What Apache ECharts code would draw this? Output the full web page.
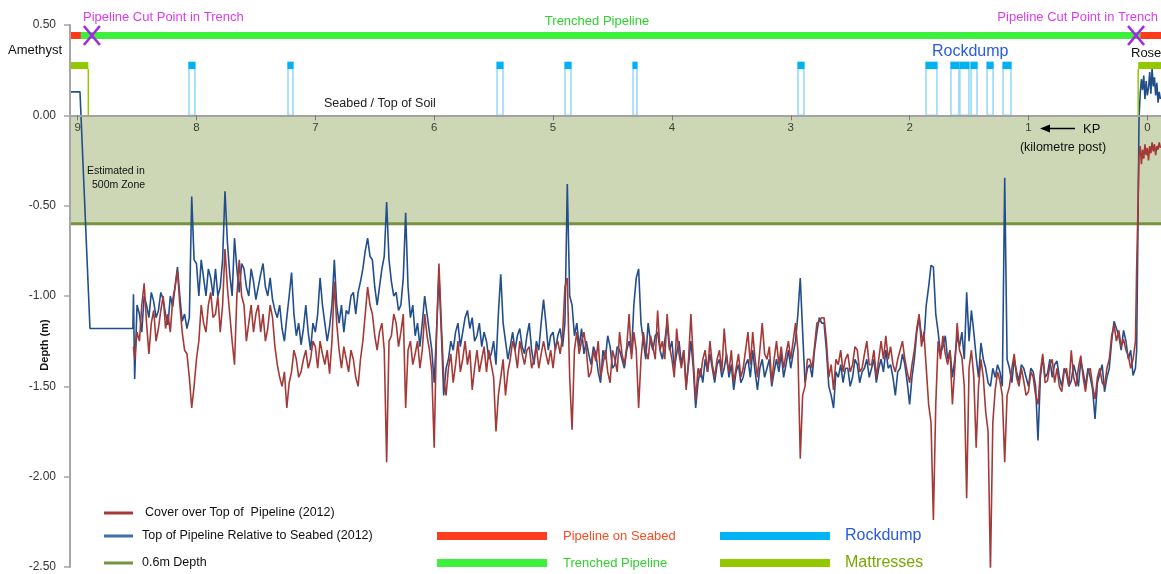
<!DOCTYPE html>
<html><head><meta charset="utf-8">
<script src="https://cdn.jsdelivr.net/npm/echarts@6/dist/echarts.min.js"></script>
<style>html,body{margin:0;padding:0;background:#fff}#c{width:1161px;height:574px}</style>
</head><body><div id="c"></div>
<script>
// ---------- data ----------
const KP_MIN = -0.115, KP_MAX = 9.064;
const kpTicks = [0, 1, 2, 3, 4, 5, 6, 7, 8, 9];
const depthLimit = -0.6;

// Estimated section (500m zone) of the top-of-pipeline line
const estKp  = [9.064, 8.98, 8.896, 8.535];
const estTop = [0.13, 0.13, -1.18, -1.18];

// Surveyed profile: KP (km)
const kp = [8.53,
 8.52,8.50,8.48,8.46,8.44,8.42,8.40,8.38,8.36,8.34,8.32,8.30,8.28,8.26,8.24,8.22,8.20,8.18,8.16,8.14,8.12,8.10,8.08,8.06,8.04,8.02,
 8.00,7.98,7.96,7.94,7.92,7.90,7.88,7.86,7.84,7.82,7.80,7.78,7.76,7.74,7.72,7.70,7.68,7.66,7.64,7.62,
 7.60,7.58,7.56,7.54,7.52,7.50,7.48,7.46,7.44,7.42,7.40,7.38,7.36,7.34,7.32,7.30,7.28,7.26,7.24,7.22,
 7.20,7.18,7.16,7.14,7.12,7.10,7.08,7.06,7.04,7.02,
 7.00,6.98,6.96,6.94,6.92,6.90,6.88,6.86,6.84,6.82,6.80,6.78,6.76,6.74,6.72,6.70,6.68,6.66,6.64,6.62,
 6.60,6.58,6.56,6.54,6.52,6.50,6.48,6.46,6.44,6.42,6.40,6.38,6.36,6.34,6.32,6.30,6.28,6.26,6.24,6.22,
 6.20,6.18,6.16,6.14,6.12,6.10,6.08,6.06,6.04,6.02,
 6.00,5.98,5.96,5.94,5.92,5.90,5.88,5.86,5.84,5.82,5.80,5.78,5.76,5.74,5.72,5.70,5.68,5.66,5.64,5.62,
 5.60,5.58,5.56,5.54,5.52,5.50,5.48,5.46,5.44,5.42,5.40,5.38,5.36,5.34,5.32,5.30,5.28,5.26,5.24,5.22,
 5.20,5.18,5.16,5.14,5.12,5.10,5.08,5.06,5.04,5.02,
 5.00,4.98,4.96,4.94,4.92,4.90,4.88,4.86,4.84,4.82,4.80,4.78,4.76,4.74,4.72,4.70,4.68,4.66,4.64,4.62,
 4.60,4.58,4.56,4.54,4.52,4.50,4.48,4.46,4.44,4.42,4.40,4.38,4.36,4.34,4.32,4.30,4.28,4.26,4.24,4.22,
 4.20,4.18,4.16,4.14,4.12,4.10,4.08,4.06,4.04,4.02,
 4.00,3.98,3.96,3.94,3.92,3.90,3.88,3.86,3.84,3.82,3.80,3.78,3.76,3.74,3.72,3.70,3.68,3.66,3.64,3.62,
 3.60,3.58,3.56,3.54,3.52,3.50,3.48,3.46,3.44,3.42,3.40,3.38,3.36,3.34,3.32,3.30,3.28,3.26,3.24,3.22,
 3.20,3.18,3.16,3.14,3.12,3.10,3.08,3.06,3.04,3.02,
 3.00,2.98,2.96,2.94,2.92,2.90,2.88,2.86,2.84,2.82,2.80,2.78,2.76,2.74,2.72,2.70,2.68,2.66,2.64,2.62,
 2.60,2.58,2.56,2.54,2.52,2.50,2.48,2.46,2.44,2.42,2.40,2.38,2.36,2.34,2.32,2.30,2.28,2.26,2.24,2.22,
 2.20,2.18,2.16,2.14,2.12,2.10,2.08,2.06,2.04,2.02,
 2.00,1.98,1.96,1.94,1.92,1.90,1.88,1.86,1.84,1.82,1.80,1.78,1.76,1.74,1.72,1.70,1.68,1.66,1.64,1.62,
 1.60,1.58,1.56,1.54,1.52,1.50,1.48,1.46,1.44,1.42,1.40,1.38,1.36,1.34,1.32,1.30,1.28,1.26,1.24,1.22,
 1.20,1.18,1.16,1.14,1.12,1.10,1.08,1.06,1.04,1.02,
 1.00,0.98,0.96,0.94,0.92,0.90,0.88,0.86,0.84,0.82,0.80,0.78,0.76,0.74,0.72,0.70,0.68,0.66,0.64,0.62,
 0.60,0.58,0.56,0.54,0.52,0.50,0.48,0.46,0.44,0.42,0.40,0.38,0.36,0.34,0.32,0.30,0.28,0.26,0.24,0.22,
 0.20,0.18,0.16,0.14,0.12,
 0.10,0.09,0.08,0.07,0.06,0.05,0.04,0.03,0.02,0.01,0.00,-0.01,-0.02,-0.03,-0.04,-0.05,-0.06,-0.07,-0.08,-0.09,-0.10,-0.11];

// Top of Pipeline Relative to Seabed (2012), m
const topOfPipe = [-0.99,
 -1.46,-1.05,-1.10,-1.20,-1.00,-1.05,-1.12,-0.98,-1.03,-1.12,-1.08,-0.98,-1.02,-1.10,-1.16,-1.00,-1.06,-0.95,-0.84,-1.00,-1.14,-1.10,-1.18,-1.12,-0.45,-0.80,
 -0.82,-1.00,-0.80,-0.90,-1.00,-0.85,-0.90,-1.00,-0.85,-1.00,-0.95,-0.80,-0.42,-0.70,-0.88,-1.00,-0.68,-0.85,-0.98,-0.82,
 -0.85,-0.95,-1.00,-0.85,-0.92,-1.02,-0.95,-0.88,-0.82,-0.95,-1.00,-0.90,-1.02,-1.08,-1.12,-1.05,-1.18,-1.25,-1.12,-1.00,
 -0.87,-1.10,-1.22,-1.15,-1.27,-1.18,-1.05,-1.20,-1.30,-1.15,
 -1.20,-1.10,-0.90,-1.05,-1.15,-1.25,-1.17,-1.05,-0.80,-1.05,-1.15,-1.05,-1.20,-1.08,-1.10,-1.00,-0.98,-1.10,-0.98,-0.92,
 -0.85,-0.75,-0.68,-0.78,-0.80,-0.95,-1.05,-0.95,-0.85,-0.78,-0.48,-0.80,-0.92,-1.00,-0.98,-1.08,-1.05,-0.90,-0.54,-0.95,
 -1.12,-1.05,-1.22,-1.15,-1.28,-1.15,-1.00,-1.10,-1.20,-1.30,
 -1.48,-1.20,-0.88,-1.20,-1.55,-1.40,-1.35,-1.25,-1.30,-1.20,-1.15,-1.28,-1.20,-1.12,-1.08,-1.18,-1.12,-1.25,-1.22,-1.15,
 -1.28,-1.20,-1.25,-1.35,-1.32,-1.25,-1.38,-1.10,-0.88,-1.15,-1.25,-1.35,-1.28,-1.20,-1.30,-1.22,-1.18,-1.28,-1.32,-1.22,
 -1.15,-1.30,-1.38,-1.25,-1.30,-1.15,-1.02,-1.15,-1.30,-1.22,
 -1.20,-1.30,-1.22,-1.18,-1.28,-1.15,-0.38,-1.00,-1.05,-1.22,-1.15,-1.28,-1.18,-1.32,-1.25,-1.32,-1.38,-1.28,-1.32,-1.42,
 -1.48,-1.30,-1.35,-1.22,-1.28,-1.40,-1.38,-1.28,-1.30,-1.35,-1.40,-1.30,-1.25,-1.32,-1.05,-0.90,-0.85,-1.15,-1.25,-1.35,
 -1.15,-1.25,-1.30,-1.22,-1.20,-1.30,-1.35,-1.25,-1.15,-1.30,
 -1.25,-1.40,-1.32,-1.25,-1.38,-1.30,-1.50,-1.38,-1.25,-1.40,-1.62,-1.48,-1.40,-1.48,-1.35,-1.42,-1.32,-1.40,-1.48,-1.38,
 -1.35,-1.45,-1.40,-1.32,-1.45,-1.38,-1.52,-1.42,-1.38,-1.48,-1.45,-1.38,-1.35,-1.45,-1.30,-1.42,-1.52,-1.40,-1.35,-1.45,
 -1.40,-1.35,-1.50,-1.42,-1.35,-1.42,-1.32,-1.45,-1.38,-1.30,
 -1.40,-1.32,-1.25,-1.10,-0.90,-1.20,-1.48,-1.40,-1.38,-1.45,-1.30,-1.20,-1.12,-1.15,-1.15,-1.30,-1.50,-1.55,-1.62,-1.42,
 -1.45,-1.38,-1.48,-1.40,-1.40,-1.50,-1.45,-1.35,-1.38,-1.48,-1.42,-1.40,-1.35,-1.45,-1.40,-1.35,-1.48,-1.40,-1.35,-1.42,
 -1.30,-1.40,-1.38,-1.45,-1.55,-1.42,-1.40,-1.32,-1.38,-1.48,
 -1.60,-1.45,-1.35,-1.20,-1.12,-1.22,-1.25,-1.05,-0.95,-0.83,-0.84,-1.10,-1.20,-1.32,-1.28,-1.22,-1.35,-1.30,-1.45,-1.35,
 -1.22,-1.28,-1.20,-1.35,-0.98,-1.25,-1.08,-1.20,-1.34,-1.45,-1.26,-1.35,-1.40,-1.48,-1.50,-1.40,-1.45,-1.38,-1.42,-1.50,
 -0.345,-1.35,-1.40,-1.48,-1.35,-1.42,-1.47,-1.38,-1.40,-1.45,
 -1.50,-1.40,-1.42,-1.50,-1.80,-1.45,-1.34,-1.45,-1.43,-1.35,-1.45,-1.38,-1.36,-1.45,-1.50,-1.40,-1.43,-1.50,-1.47,-1.38,
 -1.43,-1.50,-1.36,-1.42,-1.50,-1.40,-1.45,-1.52,-1.68,-1.48,-1.43,-1.38,-1.53,-1.45,-1.40,-1.25,-1.14,-1.18,-1.22,-1.30,
 -1.19,-1.25,-1.35,-1.30,-1.44,
 -1.40,-1.30,-0.70,-0.02,0.12,0.20,0.14,0.22,0.09,0.19,0.11,0.15,0.24,0.12,0.26,0.16,0.21,0.11,0.18,0.07,0.13,0.09];

// Cover over Top of Pipeline (2012), m
const cover = [-1.28,
 -1.35,-1.20,-1.25,-1.05,-0.93,-1.15,-1.32,-1.15,-1.08,-1.25,-1.18,-1.08,-1.00,-1.18,-1.10,-1.20,-1.02,-0.95,-0.86,-1.05,-1.20,-1.30,-1.32,-1.45,-1.62,-1.50,
 -1.35,-1.25,-1.05,-1.15,-1.20,-1.05,-0.98,-1.12,-1.10,-1.00,-1.20,-1.05,-0.74,-0.95,-1.10,-1.25,-1.38,-1.00,-0.80,-1.00,
 -1.05,-1.25,-1.15,-1.05,-1.20,-1.10,-1.05,-1.20,-1.10,-1.25,-1.18,-1.05,-1.12,-1.28,-1.38,-1.45,-1.50,-1.42,-1.62,-1.48,
 -1.42,-1.30,-1.35,-1.45,-1.42,-1.35,-1.30,-1.40,-1.35,-1.25,
 -1.28,-1.40,-1.25,-1.32,-1.38,-1.30,-1.43,-1.25,-0.92,-1.15,-1.30,-1.40,-1.28,-1.35,-1.42,-1.30,-1.35,-1.45,-1.50,-1.35,
 -1.25,-1.10,-0.95,-1.05,-1.10,-1.22,-1.30,-1.20,-1.15,-1.30,-1.92,-1.25,-1.22,-1.10,-1.15,-1.28,-1.20,-1.10,-1.62,-1.30,
 -1.25,-1.38,-1.32,-1.25,-1.40,-1.30,-1.10,-1.22,-1.30,-1.42,
 -1.84,-1.20,-0.82,-1.15,-1.45,-1.55,-1.40,-1.32,-1.48,-1.38,-1.25,-1.42,-1.35,-1.25,-1.38,-1.30,-1.52,-1.40,-1.30,-1.42,
 -1.35,-1.28,-1.42,-1.30,-1.38,-1.45,-1.75,-1.55,-1.45,-1.35,-1.55,-1.42,-1.35,-1.25,-1.30,-1.40,-1.25,-1.32,-1.38,-1.30,
 -1.28,-1.40,-1.35,-1.28,-1.40,-1.32,-1.25,-1.32,-1.38,-1.30,
 -1.40,-1.28,-1.25,-1.32,-1.22,-0.95,-0.90,-1.45,-1.74,-1.30,-1.20,-1.32,-1.25,-1.20,-1.30,-1.45,-1.42,-1.30,-1.36,-1.25,
 -1.45,-1.38,-1.30,-1.42,-1.48,-1.30,-1.35,-1.42,-1.20,-1.32,-1.38,-1.28,-1.10,-1.35,-1.20,-1.30,-1.62,-1.35,-1.20,-1.30,
 -1.35,-1.22,-1.28,-1.35,-1.08,-1.30,-1.25,-1.35,-1.10,-1.28,
 -1.35,-1.45,-1.18,-1.32,-1.40,-1.30,-1.52,-1.35,-1.10,-1.35,-1.58,-1.40,-1.45,-1.35,-1.30,-1.42,-1.25,-1.38,-1.45,-1.35,
 -1.30,-1.42,-1.18,-1.35,-1.42,-1.30,-1.48,-1.40,-1.32,-1.45,-1.40,-1.30,-1.20,-1.38,-1.20,-1.35,-1.45,-1.30,-1.15,-1.32,
 -1.35,-1.28,-1.48,-1.35,-1.25,-1.38,-1.28,-1.40,-1.32,-1.25,
 -1.35,-1.25,-1.15,-1.30,-1.90,-1.55,-1.50,-1.35,-1.35,-1.40,-1.28,-1.15,-1.14,-1.12,-1.12,-1.25,-1.45,-1.38,-1.52,-1.35,
 -1.38,-1.30,-1.42,-1.35,-1.32,-1.42,-1.38,-1.28,-1.30,-1.42,-1.40,-1.32,-1.25,-1.38,-1.38,-1.30,-1.45,-1.35,-1.25,-1.35,
 -1.22,-1.35,-1.28,-1.38,-1.42,-1.35,-1.30,-1.25,-1.35,-1.42,
 -1.48,-1.38,-1.30,-1.18,-1.10,-1.28,-1.20,-1.40,-1.60,-1.70,-2.24,-1.60,-1.25,-1.35,-1.22,-1.32,-1.38,-1.30,-1.60,-1.40,
 -1.15,-1.30,-1.34,-1.50,-2.12,-1.40,-1.30,-1.45,-1.84,-1.50,-1.35,-1.45,-1.64,-1.75,-2.52,-1.70,-1.52,-1.42,-1.47,-1.55,
 -1.92,-1.55,-1.50,-1.40,-1.32,-1.45,-1.50,-1.40,-1.47,-1.55,
 -1.53,-1.42,-1.45,-1.55,-1.60,-1.42,-1.32,-1.48,-1.47,-1.38,-1.35,-1.48,-1.40,-1.50,-1.53,-1.42,-1.40,-1.50,-1.30,-1.45,
 -1.50,-1.40,-1.33,-1.45,-1.53,-1.42,-1.40,-1.50,-1.57,-1.45,-1.40,-1.48,-1.50,-1.40,-1.35,-1.22,-1.16,-1.25,-1.19,-1.28,
 -1.24,-1.30,-1.33,-1.40,-1.35,
 -1.25,-0.85,-0.55,-0.22,-0.17,-0.27,-0.19,-0.24,-0.16,-0.22,-0.18,-0.25,-0.17,-0.21,-0.15,-0.20,-0.16,-0.22,-0.17,-0.19,-0.15,-0.18];

// Top annotation bands (KP from, KP to)
const pipelineOnSeabed = [[9.064, 8.972], [0.06, -0.115]];
const trenchedPipeline = [[8.972, 0.06]];
const cutPoints = [8.88, 0.095];
const rockdumps = [[8.063,8.013],[7.230,7.188],[5.471,5.421],[4.899,4.849],[4.327,4.294],[2.939,2.889],
  [1.862,1.770],[1.652,1.585],[1.577,1.501],[1.483,1.433],[1.348,1.298],[1.214,1.147]];
const mattresses = [[9.064, 8.91], [-0.115, 0.077]]; // [outer end, inner end]
const BAND_LEVEL = 0.442, CAP_LEVEL = 0.295;

// ---------- chart ----------
const FONT = 'Liberation Sans, Arial, sans-serif';
const chart = echarts.init(document.getElementById('c'), null, {renderer: 'canvas'});

function bandRender(color) {
  return function (params, api) {
    const a = api.coord([api.value(0), BAND_LEVEL]);
    const b = api.coord([api.value(1), BAND_LEVEL]);
    const x1 = Math.min(a[0], b[0]), x2 = Math.max(a[0], b[0]);
    return {type: 'rect', shape: {x: x1, y: a[1] - 3.5, width: x2 - x1, height: 7}, style: {fill: color}};
  };
}

const n = Math.min(kp.length, topOfPipe.length, cover.length);
const blueData = estKp.map((k, i) => [k, estTop[i]]).concat(kp.slice(0, n).map((k, i) => [k, topOfPipe[i]]));
const redData = kp.slice(0, n).map((k, i) => [k, cover[i]]);

const option = {
  animation: false,
  backgroundColor: '#fff',
  textStyle: {fontFamily: FONT},
  grid: {left: 70, right: 0, top: 25, bottom: 7, containLabel: false, outerBoundsMode: 'none'},
  xAxis: {
    type: 'value', min: KP_MIN, max: KP_MAX, inverse: true, z: 10,
    axisLine: {show: true, onZero: true, lineStyle: {color: '#a3a3a3', width: 2}},
    axisTick: {show: true, customValues: kpTicks, length: 5, lineStyle: {color: '#7a7a7a', width: 1}},
    axisLabel: {show: false},
    splitLine: {show: false}
  },
  yAxis: {
    type: 'value', min: -2.5, max: 0.5, interval: 0.5, z: 10,
    axisLine: {show: true, onZero: false, lineStyle: {color: '#a6a6a6', width: 2}},
    axisTick: {show: true, length: 6, lineStyle: {color: '#a6a6a6', width: 1.5}},
    axisLabel: {formatter: v => v.toFixed(2), color: '#333', fontSize: 12, margin: 14, fontFamily: FONT},
    splitLine: {show: false}
  },
  series: [
    {
      name: '0.6m Depth', type: 'line', symbol: 'none', z: 1,
      data: [[KP_MAX, depthLimit], [KP_MIN, depthLimit]],
      lineStyle: {color: '#77933c', width: 3},
      markArea: {silent: true, itemStyle: {color: '#cdd7b6'}, data: [[{yAxis: 0}, {yAxis: depthLimit}]]}
    },
    {
      name: 'Top of Pipeline Relative to Seabed (2012)', type: 'line', symbol: 'none', z: 3,
      data: blueData, lineStyle: {color: '#224f8c', width: 1.6}
    },
    {
      name: 'Cover over Top of Pipeline (2012)', type: 'line', symbol: 'none', z: 4,
      data: redData, lineStyle: {color: '#a43a38', width: 1.6}
    },
    {
      name: 'KP labels', type: 'scatter', z: 12, symbolSize: 0, silent: true,
      data: kpTicks.map(k => [k, 0]),
      label: {show: true, position: 'bottom', distance: 6, formatter: p => String(p.value[0]),
        color: '#111', fontSize: 11.5, fontFamily: FONT}
    },
    {type: 'custom', name: 'Pipeline on Seabed', z: 5, encode: {x: [0, 1]}, data: pipelineOnSeabed, renderItem: bandRender('#ff3b1e')},
    {type: 'custom', name: 'Trenched Pipeline', z: 5, encode: {x: [0, 1]}, data: trenchedPipeline, renderItem: bandRender('#3ef03e')},
    {
      type: 'custom', name: 'Rockdump', z: 5, encode: {x: [0, 1]}, data: rockdumps,
      renderItem: function (params, api) {
        const a = api.coord([api.value(0), CAP_LEVEL]);
        const b = api.coord([api.value(1), 0]);
        const x1 = Math.min(a[0], b[0]), x2 = Math.max(a[0], b[0]);
        return {type: 'group', children: [
          {type: 'rect', shape: {x: x1, y: a[1], width: x2 - x1, height: b[1] - a[1]}, style: {fill: '#fff', stroke: '#93d8f6', lineWidth: 1.5}},
          {type: 'rect', shape: {x: x1 - 0.5, y: a[1], width: x2 - x1 + 1, height: 7}, style: {fill: '#00b2f2'}}
        ]};
      }
    },
    {
      type: 'custom', name: 'Mattresses', z: 5, encode: {x: [0, 1]}, data: mattresses,
      renderItem: function (params, api) {
        const a = api.coord([api.value(0), CAP_LEVEL]);
        const b = api.coord([api.value(1), 0]);
        const x1 = Math.min(a[0], b[0]), x2 = Math.max(a[0], b[0]);
        return {type: 'group', children: [
          {type: 'rect', shape: {x: x1, y: a[1], width: x2 - x1, height: 7}, style: {fill: '#93c800'}},
          {type: 'line', shape: {x1: b[0], y1: a[1] + 7, x2: b[0], y2: b[1]}, style: {stroke: '#93c800', lineWidth: 1.5}}
        ]};
      }
    },
    {
      type: 'custom', name: 'Cut Point', z: 6, encode: {x: 0, y: 1}, data: cutPoints.map(k => [k, BAND_LEVEL]),
      renderItem: function (params, api) {
        const c = api.coord([api.value(0), api.value(1)]);
        const s = {stroke: '#a526e6', lineWidth: 2.6};
        return {type: 'group', children: [
          {type: 'line', shape: {x1: c[0] - 8, y1: c[1] - 9.5, x2: c[0] + 8, y2: c[1] + 9.5}, style: s},
          {type: 'line', shape: {x1: c[0] + 8, y1: c[1] - 9.5, x2: c[0] - 8, y2: c[1] + 9.5}, style: s}
        ]};
      }
    }
  ],
  graphic: [
    {type: 'text', z: 20, style: {text: 'Pipeline Cut Point in Trench', x: 83, y: 17, fill: '#dc3ced', font: '13px ' + FONT, textVerticalAlign: 'middle'}},
    {type: 'text', z: 20, style: {text: 'Pipeline Cut Point in Trench', x: 1158, y: 17, fill: '#dc3ced', font: '13px ' + FONT, textAlign: 'right', textVerticalAlign: 'middle'}},
    {type: 'text', z: 20, style: {text: 'Trenched Pipeline', x: 597, y: 21, fill: '#2fd12f', font: '13px ' + FONT, textAlign: 'center', textVerticalAlign: 'middle'}},
    {type: 'text', z: 20, style: {text: 'Amethyst', x: 8, y: 50, fill: '#111', font: '13px ' + FONT, textVerticalAlign: 'middle'}},
    {type: 'text', z: 20, style: {text: 'Rose', x: 1131, y: 53, fill: '#111', font: '13px ' + FONT, textVerticalAlign: 'middle'}},
    {type: 'text', z: 20, style: {text: 'Rockdump', x: 932, y: 52, fill: '#2a5ae0', font: '16px ' + FONT, textVerticalAlign: 'middle'}},
    {type: 'text', z: 20, style: {text: 'Seabed / Top of Soil', x: 324, y: 104, fill: '#222', font: '12.5px ' + FONT, textVerticalAlign: 'middle'}},
    {type: 'text', z: 20, style: {text: 'KP', x: 1083, y: 129, fill: '#111', font: '13px ' + FONT, textVerticalAlign: 'middle'}},
    {type: 'text', z: 20, style: {text: '(kilometre post)', x: 1063, y: 148, fill: '#111', font: '12.5px ' + FONT, textAlign: 'center', textVerticalAlign: 'middle'}},
    {type: 'line', z: 20, shape: {x1: 1048, y1: 128.5, x2: 1075, y2: 128.5}, style: {stroke: '#000', lineWidth: 1.5}},
    {type: 'polygon', z: 20, shape: {points: [[1040, 128.5], [1050, 124.5], [1050, 132.5]]}, style: {fill: '#000'}},
    {type: 'text', z: 20, style: {text: 'Estimated in', x: 87, y: 171, fill: '#111', font: '10.5px ' + FONT, textVerticalAlign: 'middle'}},
    {type: 'text', z: 20, style: {text: '500m Zone', x: 92, y: 185, fill: '#111', font: '10.5px ' + FONT, textVerticalAlign: 'middle'}},
    {type: 'text', z: 20, rotation: Math.PI / 2, x: 45, y: 345,
      style: {text: 'Depth (m)', x: 0, y: 0, fill: '#111', font: 'bold 11px ' + FONT, textAlign: 'center', textVerticalAlign: 'middle'}},
    // legend
    {type: 'line', z: 20, shape: {x1: 104, y1: 513, x2: 133, y2: 513}, style: {stroke: '#a43a38', lineWidth: 3}},
    {type: 'line', z: 20, shape: {x1: 104, y1: 536, x2: 133, y2: 536}, style: {stroke: '#3f6eae', lineWidth: 3}},
    {type: 'line', z: 20, shape: {x1: 104, y1: 563, x2: 133, y2: 563}, style: {stroke: '#77933c', lineWidth: 3}},
    {type: 'text', z: 20, style: {text: 'Cover over Top of  Pipeline (2012)', x: 145, y: 513, fill: '#111', font: '12.5px ' + FONT, textVerticalAlign: 'middle'}},
    {type: 'text', z: 20, style: {text: 'Top of Pipeline Relative to Seabed (2012)', x: 142, y: 536, fill: '#111', font: '12.5px ' + FONT, textVerticalAlign: 'middle'}},
    {type: 'text', z: 20, style: {text: '0.6m Depth', x: 142, y: 563, fill: '#111', font: '12.5px ' + FONT, textVerticalAlign: 'middle'}},
    {type: 'rect', z: 20, shape: {x: 437, y: 532, width: 110, height: 8}, style: {fill: '#ff3b1e'}},
    {type: 'rect', z: 20, shape: {x: 437, y: 559, width: 110, height: 8}, style: {fill: '#3ef03e'}},
    {type: 'rect', z: 20, shape: {x: 720, y: 532, width: 110, height: 8}, style: {fill: '#00b4f5'}},
    {type: 'rect', z: 20, shape: {x: 720, y: 559, width: 110, height: 8}, style: {fill: '#93c800'}},
    {type: 'text', z: 20, style: {text: 'Pipeline on Seabed', x: 563, y: 536, fill: '#ff4a22', font: '13px ' + FONT, textVerticalAlign: 'middle'}},
    {type: 'text', z: 20, style: {text: 'Trenched Pipeline', x: 563, y: 563, fill: '#2fd12f', font: '13px ' + FONT, textVerticalAlign: 'middle'}},
    {type: 'text', z: 20, style: {text: 'Rockdump', x: 845, y: 536, fill: '#2a5ae0', font: '16px ' + FONT, textVerticalAlign: 'middle'}},
    {type: 'text', z: 20, style: {text: 'Mattresses', x: 845, y: 563, fill: '#78a800', font: '16px ' + FONT, textVerticalAlign: 'middle'}}
  ]
};
chart.setOption(option);
</script>
</body></html>
